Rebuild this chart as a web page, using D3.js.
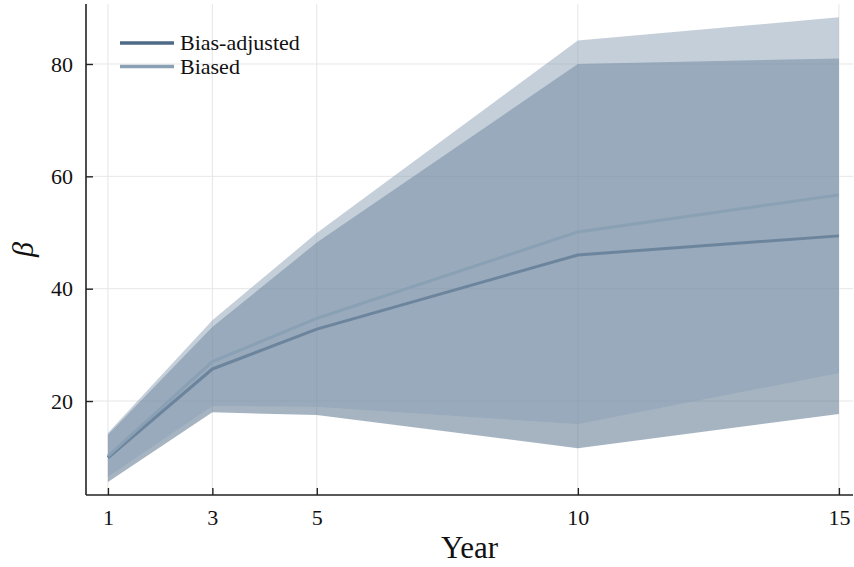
<!DOCTYPE html>
<html><head><meta charset="utf-8">
<script src="https://d3js.org/d3.v7.min.js"></script>
<style>
body { margin: 0; background: #fff; }
svg text { font-family: 'Liberation Serif', 'DejaVu Serif', serif; fill: #111; }
</style>
</head>
<body>
<svg id="chart" width="854" height="567"></svg>
<script>
// data
const years = [1, 3, 5, 10, 15];
const adjMean = [9.9, 25.7, 32.8, 46.0, 49.4];
const adjLower = [5.6, 18.0, 17.5, 11.6, 17.7];
const adjUpper = [14.0, 33.2, 48.2, 80.0, 81.0];
const biasMean = [10.2, 27.0, 34.7, 50.1, 56.7];
const biasLower = [6.5, 19.1, 19.0, 15.9, 25.0];
const biasUpper = [14.3, 34.4, 49.9, 84.2, 88.3];
const xTicks = [1, 3, 5, 10, 15];
const yTicks = [20, 40, 60, 80];
const seriesNames = ['Bias-adjusted', 'Biased'];
const seriesColors = ['#4e6a86', '#8aa0b4'];

const svg = d3.select('#chart');
const padL = 86, padR = 853, padT = 4, padB = 495;

const x = d3.scaleLinear().domain([0.58, 15.27]).range([padL, padR]);
const y = d3.scaleLinear().domain([3.27, 90.68]).range([padB, padT]);

// grid
svg.append('g').selectAll('line').data(xTicks).join('line')
  .attr('x1', d => x(d)).attr('x2', d => x(d))
  .attr('y1', padT).attr('y2', padB)
  .attr('stroke', '#e6e6e6').attr('stroke-width', 1);
svg.append('g').selectAll('line').data(yTicks).join('line')
  .attr('x1', padL).attr('x2', padR)
  .attr('y1', d => y(d)).attr('y2', d => y(d))
  .attr('stroke', '#e6e6e6').attr('stroke-width', 1);

const series = [
  { lower: adjLower, upper: adjUpper, mean: adjMean, color: seriesColors[0] },
  { lower: biasLower, upper: biasUpper, mean: biasMean, color: seriesColors[1] }
];

const area = d3.area()
  .x(d => x(d.year)).y0(d => y(d.lo)).y1(d => y(d.hi));
const line = d3.line()
  .x(d => x(d.year)).y(d => y(d.v));

series.forEach(s => {
  const rows = years.map((yr, i) => ({ year: yr, lo: s.lower[i], hi: s.upper[i], v: s.mean[i] }));
  svg.append('path')
    .attr('d', area(rows))
    .attr('fill', s.color)
    .attr('fill-opacity', 0.5);
  svg.append('path')
    .attr('d', line(rows))
    .attr('fill', 'none')
    .attr('stroke', s.color)
    .attr('stroke-width', 3)
    .attr('stroke-linejoin', 'round');
});

// axes
const xAxis = d3.axisBottom(x).tickValues(xTicks).tickSize(-7).tickSizeOuter(0).tickPadding(14);
const gx = svg.append('g').attr('transform', `translate(0,${padB})`).call(xAxis);
const yAxis = d3.axisLeft(y).tickValues(yTicks).tickSize(-7).tickSizeOuter(0).tickPadding(13);
const gy = svg.append('g').attr('transform', `translate(${padL},0)`).call(yAxis);

[gx, gy].forEach(g => {
  g.attr('font-family', null);
  g.select('.domain').attr('stroke', '#222').attr('stroke-width', 1.6);
  g.selectAll('.tick line').attr('stroke', '#222').attr('stroke-width', 1.4);
  g.selectAll('.tick text')
    .style('font-family', "'Liberation Serif', 'DejaVu Serif', serif")
    .style('font-size', '22px').attr('fill', '#111');
});
gx.select('.domain').attr('d', `M${padL},0H${padR}`);
gy.select('.domain').attr('d', `M0,${padB}V${padT}`);

// axis titles
svg.append('text')
  .attr('x', (padL + padR) / 2).attr('y', 558)
  .attr('text-anchor', 'middle')
  .style('font-size', '31px')
  .text('Year');

svg.append('text')
  .attr('transform', `translate(33,${(padT + padB) / 2}) rotate(-90)`)
  .attr('text-anchor', 'middle')
  .style('font-size', '30px')
  .style('font-style', 'italic')
  .text('β');

// legend
const legend = svg.append('g');
seriesNames.forEach((name, i) => {
  const ly = 43 + i * 23.5;
  legend.append('line')
    .attr('x1', 120).attr('x2', 174)
    .attr('y1', ly).attr('y2', ly)
    .attr('stroke', seriesColors[i]).attr('stroke-width', 3.5);
  legend.append('text')
    .attr('x', 180).attr('y', ly + 7)
    .style('font-size', '22px')
    .text(name);
});
</script>
</body></html>
